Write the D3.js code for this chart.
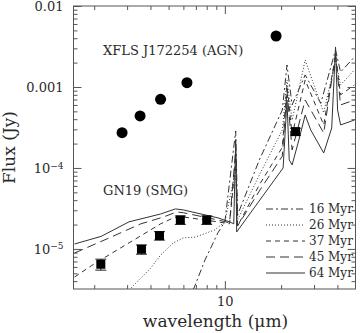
<!DOCTYPE html>
<html>
<head>
<meta charset="utf-8">
<script src="https://cdn.jsdelivr.net/npm/d3@7"></script>
<style>
  body { margin: 0; background: #fff; }
  svg { display: block; }
  text { font-family: "DejaVu Serif", serif; fill: #2a2a2a; }
</style>
</head>
<body>
<div id="chart"></div>
<script>
// AGN photometry (XFLS J172254)
const agnWave = [2.82, 3.52, 4.53, 6.27, 18.8];
const agnFlux = [2.73e-4, 4.39e-4, 7.05e-4, 1.13e-3, 4.26e-3];

// SMG photometry (GN19) with errors
const smgWave = [2.17, 3.58, 4.47, 5.78, 8.0, 23.9];
const smgFlux = [6.47e-6, 9.9e-6, 1.46e-5, 2.28e-5, 2.28e-5, 2.81e-4];
const smgErr  = [1.0e-6, 1.3e-6, 1.75e-6, 2.7e-6, 2.7e-6, 2.8e-5];

// starburst templates
const wave64 = [1.57, 2.18, 3.07, 4.53, 5.44, 6.0, 9.18, 10.6, 11.16, 11.43, 11.57, 20.5, 21.5, 22.1, 22.9, 24.9, 26.9, 28.8, 33.8, 37.3, 39.1, 40.1, 41.6, 49.3];
const flux64 = [1.15e-5, 1.43e-5, 2.16e-5, 2.7e-5, 3.12e-5, 3.03e-5, 2.42e-5, 2.16e-5, 2.04e-5, 2.22e-4, 1.62e-5, 1.0e-4, 6.9e-4, 1.26e-4, 1.09e-4, 2.22e-4, 4.5e-4, 2.95e-4, 1.53e-4, 3.12e-4, 3.12e-3, 5.2e-4, 3.4e-4, 3.9e-4];

const wave45 = [1.57, 2.34, 3.55, 4.70, 5.51, 6.0, 9.18, 10.6, 11.43, 11.7, 15.3, 20.3, 21.5, 22.9, 26.9, 33.8, 39.1, 41.6, 49.3];
const flux45 = [8.9e-6, 1.33e-5, 2.04e-5, 2.48e-5, 2.86e-5, 2.8e-5, 2.28e-5, 2.1e-5, 1.67e-4, 1.92e-5, 5.2e-5, 1.4e-4, 9.2e-4, 1.67e-4, 6.9e-4, 2.7e-4, 2.48e-3, 6.0e-4, 6.9e-4];

const wave37 = [1.57, 1.93, 2.65, 3.55, 4.53, 5.31, 6.0, 9.18, 10.6, 11.43, 11.7, 15.3, 20.3, 21.5, 22.9, 26.9, 33.8, 39.1, 41.6, 49.3];
const flux37 = [4.5e-6, 6.2e-6, 9.7e-6, 1.45e-5, 2.04e-5, 2.42e-5, 2.48e-5, 2.16e-5, 2.04e-5, 1.26e-4, 1.92e-5, 6.2e-5, 1.8e-4, 1.06e-3, 2.55e-4, 1.22e-3, 3.4e-4, 2.48e-3, 8.0e-4, 1.06e-3];

const wave26 = [3.07, 4.01, 4.53, 5.31, 6.0, 6.94, 8.85, 10.0, 11.43, 11.7, 15.3, 20.3, 21.5, 22.9, 26.9, 33.8, 39.1, 41.6, 49.3];
const flux26 = [3.1e-6, 5.8e-6, 8.4e-6, 1.19e-5, 1.37e-5, 1.4e-5, 1.72e-5, 2.16e-5, 9.4e-5, 2.28e-5, 8.2e-5, 2.95e-4, 1.22e-3, 3.9e-4, 2.15e-3, 4.8e-4, 2.15e-3, 1.06e-3, 1.62e-3];

const wave16 = [6.77, 7.83, 9.18, 10.0, 11.43, 11.7, 15.3, 20.3, 21.5, 22.9, 26.9, 32.6, 39.1, 41.6, 49.3];
const flux16 = [3.1e-6, 7.3e-6, 1.58e-5, 2.16e-5, 2.86e-4, 2.63e-5, 1.26e-4, 5.2e-4, 1.87e-3, 6.0e-4, 1.41e-3, 6.3e-4, 2.86e-3, 1.53e-3, 2.34e-3];

const ageLabels = ["16 Myr", "26 Myr", "37 Myr", "45 Myr", "64 Myr"];

const xMajor = [10];
const xMinor = [2, 3, 4, 5, 6, 7, 8, 9, 20, 30, 40];
const yMajor = [1e-5, 1e-4, 1e-3, 1e-2];

const W = 360, H = 333;
const margin = { top: 6, right: 4.5, bottom: 44, left: 73.5 };

const svg = d3.select("#chart").append("svg")
    .attr("width", W)
    .attr("height", H);

const x = d3.scaleLog().domain([1.55, 50]).range([margin.left, W - margin.right]);
const y = d3.scaleLog().domain([3.2e-6, 0.01]).range([H - margin.bottom, margin.top]);

const yMinor = [];
[1e-6, 1e-5, 1e-4, 1e-3].forEach(d => {
    for (let k = 2; k <= 9; k++) {
        const v = d * k;
        if (v >= y.domain()[0] && v <= y.domain()[1]) yMinor.push(v);
    }
});

const axisColor = "#555";
const x0 = margin.left, x1 = W - margin.right, y0 = margin.top, y1 = H - margin.bottom;

svg.append("defs").append("clipPath").attr("id", "plotClip")
    .append("rect")
    .attr("x", x0).attr("y", y0)
    .attr("width", x1 - x0).attr("height", y1 - y0);

// axes: bottom / top
function styleAxis(g) {
    g.select(".domain").remove();
    g.selectAll(".tick line").attr("stroke", axisColor);
}

svg.append("g")
    .attr("transform", `translate(0,${y1})`)
    .call(d3.axisBottom(x).tickValues(xMajor).tickSizeInner(-8).tickSizeOuter(0).tickPadding(8).tickFormat(d3.format("d")))
    .call(styleAxis)
    .selectAll("text").style("font-size", "13px").style("font-family", "DejaVu Serif").attr("fill", "#2a2a2a");
svg.append("g")
    .attr("transform", `translate(0,${y1})`)
    .call(d3.axisBottom(x).tickValues(xMinor).tickSizeInner(-4).tickSizeOuter(0).tickFormat(""))
    .call(styleAxis);
svg.append("g")
    .attr("transform", `translate(0,${y0})`)
    .call(d3.axisTop(x).tickValues(xMajor).tickSizeInner(-8).tickSizeOuter(0).tickFormat(""))
    .call(styleAxis);
svg.append("g")
    .attr("transform", `translate(0,${y0})`)
    .call(d3.axisTop(x).tickValues(xMinor).tickSizeInner(-4).tickSizeOuter(0).tickFormat(""))
    .call(styleAxis);

// axes: left / right
const yLeft = svg.append("g")
    .attr("transform", `translate(${x0},0)`)
    .call(d3.axisLeft(y).tickValues(yMajor).tickSizeInner(-8).tickSizeOuter(0).tickPadding(10).tickFormat(""))
    .call(styleAxis);
svg.append("g")
    .attr("transform", `translate(${x0},0)`)
    .call(d3.axisLeft(y).tickValues(yMinor).tickSizeInner(-4).tickSizeOuter(0).tickFormat(""))
    .call(styleAxis);
svg.append("g")
    .attr("transform", `translate(${x1},0)`)
    .call(d3.axisRight(y).tickValues(yMajor).tickSizeInner(-8).tickSizeOuter(0).tickFormat(""))
    .call(styleAxis);
svg.append("g")
    .attr("transform", `translate(${x1},0)`)
    .call(d3.axisRight(y).tickValues(yMinor).tickSizeInner(-4).tickSizeOuter(0).tickFormat(""))
    .call(styleAxis);

// y tick labels: plain decimals for the top two, powers of ten below
yLeft.selectAll(".tick").each(function(d) {
    const t = d3.select(this).select("text")
        .attr("x", -10).attr("dy", "0.35em")
        .attr("text-anchor", "end")
        .style("font-size", "13px")
        .attr("fill", "#2a2a2a");
    const e = Math.round(Math.log10(d));
    if (e >= -3) {
        t.text(d3.format(".3~f")(d));
    } else {
        t.append("tspan").text("10");
        t.append("tspan").attr("dy", "-0.5em").style("font-size", "9px").text("\u2212" + (-e));
    }
});

// frame
svg.append("rect")
    .attr("x", x0).attr("y", y0)
    .attr("width", x1 - x0).attr("height", y1 - y0)
    .attr("fill", "none")
    .attr("stroke", axisColor)
    .attr("stroke-width", 1);

// model curves
const models = [
    { label: ageLabels[0], wave: wave16, flux: flux16, dash: "7,3,2,3" },
    { label: ageLabels[1], wave: wave26, flux: flux26, dash: "1,2" },
    { label: ageLabels[2], wave: wave37, flux: flux37, dash: "5,4" },
    { label: ageLabels[3], wave: wave45, flux: flux45, dash: "9,5" },
    { label: ageLabels[4], wave: wave64, flux: flux64, dash: null }
];

const line = d3.line()
    .x(d => x(d[0]))
    .y(d => y(d[1]));

const curves = svg.append("g").attr("clip-path", "url(#plotClip)");
models.forEach(m => {
    curves.append("path")
        .datum(m.wave.map((w, i) => [w, m.flux[i]]))
        .attr("d", line)
        .attr("fill", "none")
        .attr("stroke", "#333")
        .attr("stroke-width", 1)
        .attr("stroke-dasharray", m.dash);
});

// AGN points
svg.append("g").selectAll("circle")
    .data(agnWave.map((w, i) => [w, agnFlux[i]]))
    .join("circle")
    .attr("cx", d => x(d[0]))
    .attr("cy", d => y(d[1]))
    .attr("r", 5.5)
    .attr("fill", "#000");

// SMG points with error bars
const smg = smgWave.map((w, i) => ({ w, f: smgFlux[i], e: smgErr[i] }));
const eb = svg.append("g").attr("stroke", "#222").attr("stroke-width", 1);
eb.selectAll(".ebar")
    .data(smg)
    .join("line")
    .attr("x1", d => x(d.w)).attr("x2", d => x(d.w))
    .attr("y1", d => y(d.f - d.e)).attr("y2", d => y(d.f + d.e));
eb.selectAll(".capLo")
    .data(smg)
    .join("line")
    .attr("class", "capLo")
    .attr("x1", d => x(d.w) - 5.5).attr("x2", d => x(d.w) + 5.5)
    .attr("y1", d => y(d.f - d.e)).attr("y2", d => y(d.f - d.e));
eb.selectAll(".capHi")
    .data(smg)
    .join("line")
    .attr("class", "capHi")
    .attr("x1", d => x(d.w) - 5.5).attr("x2", d => x(d.w) + 5.5)
    .attr("y1", d => y(d.f + d.e)).attr("y2", d => y(d.f + d.e));
svg.append("g").selectAll("rect")
    .data(smg)
    .join("rect")
    .attr("x", d => x(d.w) - 4.5)
    .attr("y", d => y(d.f) - 4.5)
    .attr("width", 9).attr("height", 9)
    .attr("fill", "#000");

// object labels
svg.append("text")
    .attr("x", 103).attr("y", 55)
    .style("font-size", "13px")
    .text("XFLS J172254 (AGN)");
svg.append("text")
    .attr("x", 103).attr("y", 195)
    .style("font-size", "13px")
    .text("GN19 (SMG)");

// legend
const legend = svg.append("g");
models.forEach((m, i) => {
    const ly = 209 + i * 16;
    legend.append("line")
        .attr("x1", 266).attr("x2", 305)
        .attr("y1", ly).attr("y2", ly)
        .attr("stroke", "#333")
        .attr("stroke-width", 1)
        .attr("stroke-dasharray", m.dash);
    legend.append("text")
        .attr("x", 309).attr("y", ly)
        .attr("dy", "0.35em")
        .style("font-size", "12px")
        .text(m.label);
});

// axis titles
svg.append("text")
    .attr("x", (x0 + x1) / 2 + 1).attr("y", 327)
    .attr("text-anchor", "middle")
    .style("font-size", "17px")
    .text("wavelength (\u03bcm)");
svg.append("text")
    .attr("transform", `translate(15,${(y0 + y1) / 2}) rotate(-90)`)
    .attr("text-anchor", "middle")
    .style("font-size", "17px")
    .text("Flux (Jy)");
</script>
</body>
</html>
